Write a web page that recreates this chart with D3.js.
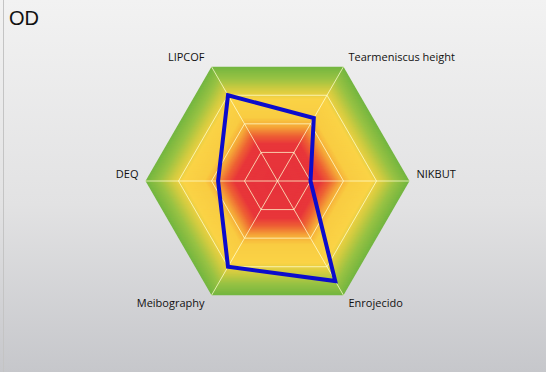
<!DOCTYPE html>
<html><head><meta charset="utf-8">
<script src="https://cdn.jsdelivr.net/npm/d3@7"></script>
<style>html,body{margin:0;padding:0;background:#f0f0f0;}svg{display:block;}</style>
</head><body>
<svg id="c" width="546" height="372"></svg>
<script>
const categories = ["LIPCOF", "Tearmeniscus height", "NIKBUT", "Enrojecido", "Meibography", "DEQ"];
const values = [3.0, 2.2, 1.0, 3.5, 3.0, 1.8];
const levels = [1, 2, 3, 4];
const maxValue = 4;
const title = "OD";

const W = 546, H = 372, cx = 277.5, cy = 181, R = 132;
const svg = d3.select("#c");
const defs = svg.append("defs");
const bg = defs.append("linearGradient").attr("id", "bg").attr("x1", 0).attr("y1", 0).attr("x2", 0).attr("y2", 1);
bg.append("stop").attr("offset", "0%").attr("stop-color", "#f2f2f2");
bg.append("stop").attr("offset", "55%").attr("stop-color", "#e2e2e3");
bg.append("stop").attr("offset", "100%").attr("stop-color", "#c6c7cb");
svg.append("rect").attr("x", 0).attr("y", 0).attr("width", W).attr("height", H).attr("fill", "url(#bg)");
svg.append("line").attr("x1", 3.5).attr("x2", 3.5).attr("y1", 0).attr("y2", H).attr("stroke", "#c4c4c4").attr("stroke-width", 1);

svg.append("text").attr("x", 9).attr("y", 25).attr("font-family", "Liberation Sans, Arial, sans-serif")
  .attr("font-size", 20).attr("fill", "#111").text(title);

const r = d3.scaleLinear().domain([0, maxValue]).range([0, R]);
const angle = d3.scaleLinear().domain([0, categories.length]).range([-Math.PI / 6, 2 * Math.PI - Math.PI / 6]);
const g = svg.append("g").attr("transform", `translate(${cx},${cy})`);
const ring = d3.lineRadial().angle((d, i) => angle(i)).radius(d => d).curve(d3.curveLinearClosed);

// hexagon-shaped gradient background
const colour = d3.scaleLinear()
  .domain([0, 0.33, 0.40, 0.48, 0.56, 0.72, 0.8, 0.9, 1])
  .range(["#e6323c", "#e8363a", "#ee6234", "#f5a838", "#f9cc42", "#fad346", "#d4cc40", "#98c243", "#74b640"])
  .interpolate(d3.interpolateRgb);
const steps = d3.range(R, 0, -1);
g.selectAll("path.band").data(steps).join("path").attr("class", "band")
  .attr("d", d => ring(categories.map(() => d)))
  .attr("fill", d => colour(d / R));

// grid rings and spokes
g.selectAll("path.grid").data(levels.filter(l => l < maxValue)).join("path").attr("class", "grid")
  .attr("d", l => ring(categories.map(() => r(l))))
  .attr("fill", "none").attr("stroke", "rgba(255,255,210,0.75)").attr("stroke-width", 1);
g.selectAll("line.spoke").data(categories).join("line").attr("class", "spoke")
  .attr("x1", 0).attr("y1", 0)
  .attr("x2", (d, i) => r(maxValue) * Math.sin(angle(i)))
  .attr("y2", (d, i) => -r(maxValue) * Math.cos(angle(i)))
  .attr("stroke", "rgba(255,255,210,0.75)").attr("stroke-width", 1);

// data polygon
const dataLine = d3.lineRadial().angle((d, i) => angle(i)).radius(d => r(d)).curve(d3.curveLinearClosed);
g.append("path").attr("d", dataLine(values)).attr("fill", "none")
  .attr("stroke", "#0c0ccc").attr("stroke-width", 4).attr("stroke-linejoin", "miter");

// labels
g.selectAll("text.lab").data(categories).join("text").attr("class", "lab")
  .attr("font-family", "Open Sans, Liberation Sans, sans-serif").attr("font-size", 11).attr("fill", "#111")
  .each(function (d, i) {
    const a = angle(i);
    const x = r(maxValue) * Math.sin(a), y = -r(maxValue) * Math.cos(a);
    const sx = Math.sin(a), cyy = -Math.cos(a);
    let anchor = sx > 0.01 ? "start" : (sx < -0.01 ? "end" : "middle");
    let dx = sx > 0.01 ? 5 : -7;
    let dy = cyy < -0.1 ? -6 : (cyy > 0.1 ? 12 : -3);
    if (Math.abs(cyy) < 0.1) { dx = sx > 0 ? 7 : -7; }
    d3.select(this).attr("x", x + dx).attr("y", y + dy).attr("text-anchor", anchor).text(d);
  });
</script>
</body></html>
